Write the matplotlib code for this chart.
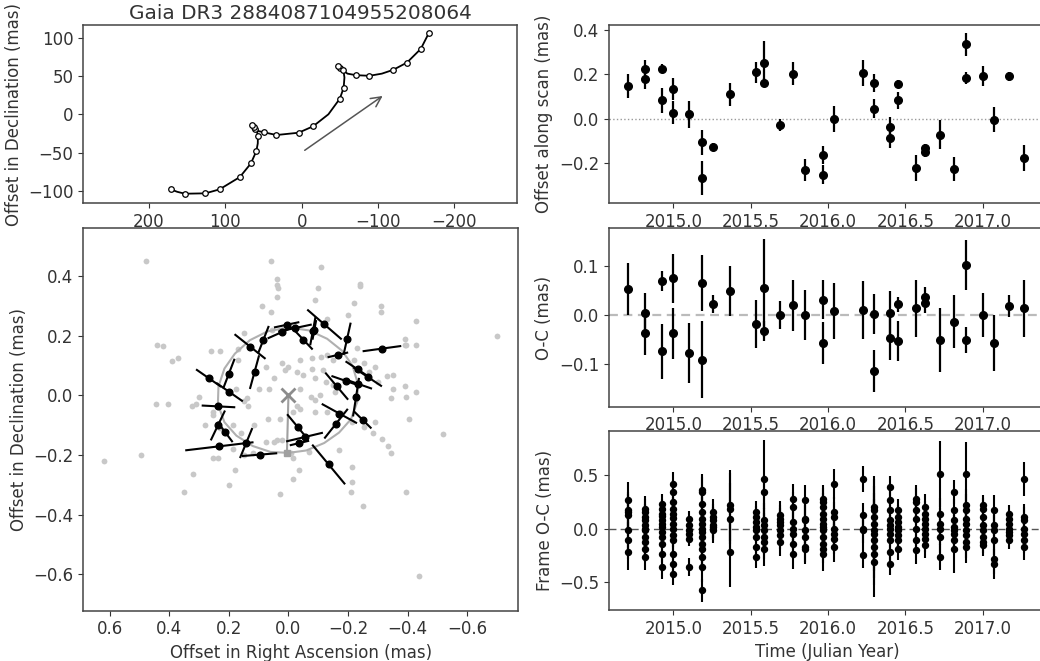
import numpy as np
import matplotlib
matplotlib.use("Agg")
import matplotlib.pyplot as plt

plt.rcParams["font.family"] = ["DejaVu Sans"]
plt.rcParams["font.size"] = 12
plt.rcParams["text.color"] = "#333333"
plt.rcParams["axes.labelcolor"] = "#333333"
plt.rcParams["xtick.color"] = "#333333"
plt.rcParams["ytick.color"] = "#333333"
plt.rcParams["axes.edgecolor"] = "#444444"
plt.rcParams["axes.linewidth"] = 1.1

TITLE = "Gaia DR3 2884087104955208064"

# ---------------- sky path (parallax + proper motion), mas ----------------
path_ra = [171.6, 163.0, 153.0, 126.0, 107.5, 81.0, 66.5, 59.4, 57.5, 57.3, 58.5,
           60.8, 62.6, 65.2, 62.0, 56.0, 49.8, 33.0, 4.0, -15.0, -35.0, -50.0,
           -55.0, -56.0, -55.0, -49.8, -48.1, -54.2, -60.0, -71.0, -88.8, -105.0,
           -120.0, -138.0, -156.0, -166.6]
path_dec = [-97.8, -101.0, -103.5, -103.0, -97.8, -81.8, -64.0, -48.0, -38.0, -28.2,
            -22.0, -19.5, -16.5, -14.3, -18.0, -22.0, -23.4, -27.0, -24.0, -15.6,
            0.0, 20.4, 34.7, 48.0, 55.0, 60.2, 62.8, 57.1, 53.0, 51.0, 50.2, 53.0,
            58.0, 67.5, 85.3, 106.0]
epoch_ra = [171.6, 153.0, 126.0, 107.5, 81.0, 66.5, 59.4, 57.3, 60.8, 62.6, 65.2,
            49.8, 33.0, 4.0, -15.0, -50.0, -55.0, -49.8, -48.1, -54.2, -71.0,
            -88.8, -120.0, -138.0, -156.0, -166.6]
epoch_dec = [-97.8, -103.5, -103.0, -97.8, -81.8, -64.0, -48.0, -28.2, -19.5, -16.5,
             -14.3, -23.4, -27.0, -24.0, -15.6, 20.4, 34.7, 60.2, 62.8, 57.1, 51.0,
             50.2, 58.0, 67.5, 85.3, 106.0]
arrow_start = (-1.0, -49.0)
arrow_end = (-109.0, 26.0)

# ---------------- orbit panel, mas ----------------
model_ra = [0.237, 0.235, 0.215, 0.18, 0.13, 0.07, 0.0, -0.07, -0.13, -0.18, -0.215,
            -0.233, -0.232, -0.21, -0.17, -0.12, -0.06, 0.0, 0.06, 0.12, 0.175,
            0.215, 0.237]
model_dec = [-0.03, 0.03, 0.09, 0.14, 0.185, 0.215, 0.228, 0.218, 0.19, 0.15, 0.1,
             0.04, -0.02, -0.08, -0.125, -0.16, -0.185, -0.193, -0.19, -0.17,
             -0.135, -0.09, -0.03]
periastron = (0.005, -0.192)

obs_ra = [0.129, 0.084, 0.200, 0.114, 0.268, 0.198, 0.235, 0.237, 0.213, 0.232,
          0.142, 0.097, -0.031, -0.135, -0.054, -0.037, -0.160, -0.171, -0.249,
          -0.227, -0.162, -0.194, -0.233, -0.233, -0.266, -0.314, -0.166, -0.197,
          -0.121, -0.082, -0.050, -0.022, 0.006, 0.021, -0.087]
obs_dec = [0.164, 0.187, 0.073, 0.078, 0.058, 0.011, -0.037, -0.101, -0.123, -0.171,
           -0.160, -0.199, -0.106, -0.232, -0.140, -0.160, -0.095, -0.061, -0.082,
           -0.006, 0.031, 0.048, 0.039, 0.087, 0.062, 0.157, 0.136, 0.190, 0.238,
           0.216, 0.187, 0.226, 0.237, 0.213, 0.220]
scan_angle = [38.5, 111.3, 111.0, 105.3, 34.8, 34.8, 3.0, 115.5, 53.0, 173.2, 112.4,
              175.4, 50.3, 50.3, 166.6, 166.6, 128.4, 28.8, 44.4, 98.8, 49.8, 19.2,
              19.2, 33.6, 33.6, 172.2, 166.7, 102.5, 40.9, 100.6, 46.6, 168.0, 168.0,
              156.0, 100.6]
scan_half = [0.063, 0.046, 0.05, 0.055, 0.048, 0.051, 0.053, 0.052, 0.039, 0.112,
             0.051, 0.056, 0.052, 0.083, 0.06, 0.03, 0.06, 0.064, 0.038, 0.062,
             0.056, 0.049, 0.047, 0.046, 0.054, 0.062, 0.032, 0.052, 0.073, 0.045,
             0.042, 0.054, 0.04, 0.05, 0.03]

frame_ra = [0.48, 0.06, -0.11, 0.04, 0.04, 0.035, -0.24, -0.24, -0.10, 0.04, -0.09,
            -0.22, 0.09, -0.31, -0.31, 0.06, -0.20, -0.13, -0.43, 0.055, 0.021, 0.44,
            0.42, -0.70, 0.15, -0.39, -0.395, -0.43, -0.39, -0.23, 0.26, 0.23, 0.17,
            0.37, 0.39, 0.17, 0.02, 0.075, 0.0, -0.04, -0.08, -0.11, -0.13, -0.15,
            -0.22, -0.255, -0.29, -0.27, -0.33, -0.35, -0.30, 0.01, -0.03, -0.05,
            -0.08, 0.05, -0.09, -0.115, -0.125, -0.15, -0.155, -0.04, -0.075, -0.09,
            -0.105, 0.065, 0.10, 0.175, 0.14, 0.15, 0.135, 0.30, 0.31, 0.445, 0.405,
            0.325, -0.35, -0.39, -0.395, -0.43, -0.345, -0.405, -0.04, -0.03, -0.015,
            -0.09, -0.13, -0.175, -0.215, -0.255, -0.285, 0.07, 0.03, 0.115, 0.185,
            0.255, 0.28, 0.23, 0.16, -0.29, -0.315, -0.335, -0.345, 0.04, 0.075,
            0.05, 0.02, 0.255, 0.235, 0.185, 0.15, 0.12, -0.01, -0.015, -0.07, -0.17,
            -0.215, -0.215, -0.21, -0.25, 0.32, 0.35, 0.18, 0.20, 0.03, -0.015,
            -0.035, 0.62, 0.495, -0.52, -0.44, -0.395, 0.255]
frame_dec = [0.45, 0.45, 0.43, 0.39, 0.37, 0.36, 0.375, 0.367, 0.36, 0.33, 0.32,
             0.31, 0.30, 0.30, 0.28, 0.28, 0.27, 0.255, 0.25, 0.22, 0.221, 0.17,
             0.165, 0.20, 0.21, 0.19, 0.17, 0.17, 0.17, 0.16, 0.15, 0.15, 0.155,
             0.125, 0.115, 0.12, 0.11, 0.095, 0.095, 0.12, 0.125, 0.13, 0.135, 0.12,
             0.12, 0.11, 0.095, 0.08, 0.065, 0.07, 0.045, 0.085, 0.08, 0.07, 0.09,
             0.06, 0.06, 0.085, 0.045, 0.035, 0.01, 0.02, -0.005, -0.015, 0.0, 0.02,
             0.02, 0.02, -0.01, -0.02, -0.035, -0.005, -0.03, -0.03, -0.03, -0.035,
             0.02, 0.03, -0.005, 0.01, -0.01, -0.08, -0.045, -0.035, -0.055, -0.055,
             -0.055, -0.06, -0.09, -0.105, -0.125, -0.08, -0.08, -0.10, -0.10,
             -0.065, -0.10, -0.11, -0.125, -0.09, -0.145, -0.17, -0.195, -0.15,
             -0.155, -0.155, -0.15, -0.21, -0.21, -0.18, -0.20, -0.195, -0.195,
             -0.21, -0.19, -0.185, -0.24, -0.29, -0.325, -0.37, -0.265, -0.325,
             -0.25, -0.30, -0.33, -0.28, -0.25, -0.22, -0.20, -0.13, -0.605, -0.325,
             -0.055]

# ---------------- time series ----------------
epochs = [2014.708, 2014.816, 2014.925, 2014.994, 2015.102, 2015.184, 2015.255,
          2015.368, 2015.532, 2015.586, 2015.690, 2015.772, 2015.854, 2015.966,
          2016.038, 2016.226, 2016.295, 2016.401, 2016.453, 2016.567, 2016.626,
          2016.725, 2016.812, 2016.892, 2017.004, 2017.075, 2017.172, 2017.266]
obs_t = [2014.708, 2014.816, 2014.816, 2014.925, 2014.925, 2014.994, 2014.994,
         2015.102, 2015.184, 2015.184, 2015.255, 2015.368, 2015.532, 2015.586,
         2015.586, 2015.690, 2015.772, 2015.854, 2015.966, 2015.966, 2016.038,
         2016.226, 2016.295, 2016.295, 2016.401, 2016.401, 2016.453, 2016.453,
         2016.567, 2016.626, 2016.626, 2016.725, 2016.812, 2016.892, 2016.892,
         2017.004, 2017.075, 2017.172, 2017.266]
along_scan = [0.147, 0.223, 0.18, 0.226, 0.083, 0.135, 0.027, 0.02, -0.105, -0.266,
              -0.128, 0.111, 0.209, 0.251, 0.162, -0.027, 0.203, -0.23, -0.162,
              -0.251, 0.0, 0.206, 0.161, 0.045, -0.035, -0.087, 0.158, 0.083,
              -0.221, -0.131, -0.15, -0.071, -0.226, 0.335, 0.185, 0.195, -0.003,
              0.191, -0.177]
o_minus_c = [0.053, 0.005, -0.037, 0.07, -0.074, 0.075, -0.037, -0.078, 0.065,
             -0.091, 0.022, 0.05, -0.019, 0.056, -0.032, 0.0, 0.02, 0.0, 0.031,
             -0.057, 0.009, 0.01, 0.002, -0.114, 0.005, -0.046, 0.022, -0.053, 0.014,
             0.037, 0.024, -0.051, -0.014, 0.102, -0.051, 0.0, -0.057, 0.018, 0.014]
obs_err = [0.053, 0.04, 0.045, 0.02, 0.056, 0.05, 0.052, 0.061, 0.057, 0.078, 0.018,
           0.051, 0.049, 0.1, 0.02, 0.028, 0.052, 0.051, 0.04, 0.042, 0.057, 0.059,
           0.04, 0.043, 0.045, 0.045, 0.015, 0.04, 0.058, 0.02, 0.02, 0.066, 0.054,
           0.051, 0.027, 0.045, 0.058, 0.022, 0.058]

frame_oc = [
    [0.264, 0.171, 0.155, 0.124, -0.016, -0.109, -0.217],
    [0.186, 0.155, 0.109, 0.078, 0.031, 0.0, -0.016, -0.078, -0.124, -0.186, -0.264],
    [0.233, 0.186, 0.14, 0.115, 0.078, 0.047, 0.016, -0.031, -0.078, -0.14, -0.233, -0.357],
    [0.419, 0.342, 0.248, 0.186, 0.14, 0.102, 0.047, 0.0, -0.062, -0.109, -0.233, -0.326, -0.419],
    [0.093, 0.031, -0.016, -0.047, -0.093, -0.357],
    [0.357, 0.342, 0.233, 0.155, 0.093, 0.047, 0.0, -0.031, -0.078, -0.14, -0.186, -0.264, -0.357, -0.575],
    [0.155, 0.109, 0.078, 0.031, 0.016, -0.016],
    [0.217, 0.186, 0.093, -0.217],
    [0.155, 0.109, 0.062, 0.016, -0.016, -0.078, -0.171, -0.264],
    [0.466, 0.342, 0.078, 0.031, -0.016, -0.078, -0.124, -0.186],
    [0.124, 0.093, 0.062, 0.031, -0.016, -0.062, -0.124],
    [0.28, 0.2, 0.062, 0.0, -0.047, -0.14, -0.233],
    [0.264, 0.093, 0.078, -0.016, -0.078, -0.171, -0.186],
    [0.28, 0.25, 0.2, 0.14, 0.093, 0.047, 0.016, -0.016, -0.078, -0.14, -0.186, -0.233],
    [0.419, 0.155, 0.109, 0.0, -0.047, -0.093, -0.171],
    [0.466, 0.124, 0.0, -0.016, -0.248],
    [0.2, 0.171, 0.109, 0.047, -0.016, -0.047, -0.109, -0.171, -0.233, -0.31],
    [0.388, 0.264, 0.171, 0.078, 0.031, 0.0, -0.047, -0.109, -0.217, -0.326],
    [0.171, 0.109, 0.062, 0.016, -0.016, -0.062, -0.109, -0.186],
    [0.28, 0.25, 0.171, 0.093, 0.0, -0.109, -0.202],
    [0.2, 0.14, 0.093, 0.047, 0.0, -0.047, -0.093, -0.155],
    [0.512, 0.14, 0.047, 0.0, -0.078, -0.264],
    [0.342, 0.171, 0.078, 0.016, -0.016, -0.047, -0.109, -0.186],
    [0.512, 0.217, 0.171, 0.093, 0.047, -0.016, -0.062, -0.124, -0.171],
    [0.217, 0.186, 0.109, 0.031, -0.016, -0.078, -0.124, -0.155],
    [0.171, 0.031, -0.016, -0.109, -0.28, -0.326],
    [0.14, 0.093, 0.047, 0.0, -0.031, -0.062, -0.109],
    [0.466, 0.109, 0.078, 0.0, -0.047, -0.109, -0.171],
]
frame_err = [
    [0.17] * 7,
    [0.12] * 11,
    [0.09] * 11 + [0.11],
    [0.11] * 13,
    [0.07] * 5 + [0.08],
    [0.155] + [0.14] * 12 + [0.105],
    [0.12] * 6,
    [0.33] * 4,
    [0.1] * 8,
    [0.36] + [0.16] * 7,
    [0.13] * 7,
    [0.14] * 7,
    [0.14] * 7,
    [0.13] * 11 + [0.157],
    [0.14] * 7,
    [0.12] * 5,
    [0.29] * 9 + [0.33],
    [0.1] * 9 + [0.11],
    [0.11] * 8,
    [0.13] * 7,
    [0.12] * 8,
    [0.31, 0.15, 0.15, 0.15, 0.15, 0.125],
    [0.11] * 7 + [0.23],
    [0.3] + [0.15] * 8,
    [0.1] * 8,
    [0.14] * 6,
    [0.08] * 7,
    [0.16] + [0.12] * 6,
]

W, H = 1040, 661


def place(left, top, right, bottom):
    return fig.add_axes([left / W, 1 - bottom / H, (right - left) / W, (bottom - top) / H])


fig = plt.figure(figsize=(W / 100, H / 100), dpi=100)

# ---- sky path ----
ax1 = place(83.3, 25, 517, 203)
ax1.plot(path_ra, path_dec, color="k", lw=1.3, zorder=2)
ax1.plot(epoch_ra, epoch_dec, "o", ms=4, mfc="white", mec="k", mew=0.9, zorder=3)
ax1.annotate("", xy=arrow_end, xytext=arrow_start,
             arrowprops=dict(arrowstyle="->", color="#555555", lw=1.1, mutation_scale=18))
ax1.set_xlim(286, -282)
ax1.set_ylim(-115.6, 116.4)
ax1.set_xticks([200, 100, 0, -100, -200])
ax1.set_yticks([100, 50, 0, -50, -100])
ax1.set_ylabel("Offset in Declination (mas)")
ax1.set_title(TITLE, fontsize=14.4, pad=4)

# ---- orbit ----
ax2 = place(83.3, 228.3, 518, 610.7)
ax2.plot(frame_ra, frame_dec, "o", ms=4.2, color="#c8c8c8", mec="none", zorder=1)
ax2.plot(model_ra, model_dec, color="#b0b0b0", lw=1.5, zorder=2)
ax2.plot([0, periastron[0]], [0, periastron[1]], color="#a0a0a0", lw=1.5, zorder=2)
ax2.plot([periastron[0]], [periastron[1]], "s", ms=5, color="#a0a0a0", zorder=2)
ax2.plot([0], [0], "x", ms=10, mew=2, color="#8c8c8c", zorder=2)
for x, y, a, L in zip(obs_ra, obs_dec, scan_angle, scan_half):
    c, s = np.cos(np.radians(a)), np.sin(np.radians(a))
    ax2.plot([x - L * c, x + L * c], [y - L * s, y + L * s], color="k", lw=1.5, zorder=3)
ax2.plot(obs_ra, obs_dec, "o", ms=4.8, color="k", zorder=4)
ax2.set_xlim(0.689, -0.771)
ax2.set_ylim(-0.723, 0.561)
ax2.set_xticks([0.6, 0.4, 0.2, 0.0, -0.2, -0.4, -0.6])
ax2.set_yticks([0.4, 0.2, 0.0, -0.2, -0.4, -0.6])
ax2.set_xlabel("Offset in Right Ascension (mas)")
ax2.set_ylabel("Offset in Declination (mas)")

# ---- time series ----
tlim = (2014.583, 2017.41)
tticks = [2015.0, 2015.5, 2016.0, 2016.5, 2017.0]

ax3 = place(609, 25, 1046, 203)
ax3.axhline(0, color="#999999", lw=1.0, ls=":", zorder=1)
ax3.errorbar(obs_t, along_scan, yerr=obs_err, fmt="o", color="k", ms=5.5,
             elinewidth=1.6, capsize=0, zorder=3)
ax3.set_ylim(-0.3785, 0.4225)
ax3.set_yticks([0.4, 0.2, 0.0, -0.2])
ax3.set_ylabel("Offset along scan (mas)")

ax4 = place(609, 228.3, 1046, 406.7)
ax4.axhline(0, color="#bbbbbb", lw=1.6, ls=(0, (4, 2.5)), zorder=1)
ax4.errorbar(obs_t, o_minus_c, yerr=obs_err, fmt="o", color="k", ms=5.5,
             elinewidth=1.6, capsize=0, zorder=3)
ax4.set_ylim(-0.187, 0.177)
ax4.set_yticks([0.1, 0.0, -0.1])
ax4.set_ylabel("O-C (mas)")

ax5 = place(609, 431, 1046, 610)
ax5.axhline(0, color="#555555", lw=1.0, ls=(0, (5, 3)), zorder=1)
ft, fv, fe = [], [], []
for t, vals, errs in zip(epochs, frame_oc, frame_err):
    ft += [t] * len(vals)
    fv += vals
    fe += errs
ax5.errorbar(ft, fv, yerr=fe, fmt="o", color="k", ms=4.3, elinewidth=1.5,
             capsize=0, zorder=3)
ax5.set_ylim(-0.758, 0.911)
ax5.set_yticks([0.5, 0.0, -0.5])
ax5.set_ylabel("Frame O-C (mas)")
ax5.set_xlabel("Time (Julian Year)")

for ax in (ax3, ax4, ax5):
    ax.set_xlim(*tlim)
    ax.set_xticks(tticks)
    ax.set_xticklabels(["2015.0", "2015.5", "2016.0", "2016.5", "2017.0"])

fig.savefig("out.png", dpi=100)
